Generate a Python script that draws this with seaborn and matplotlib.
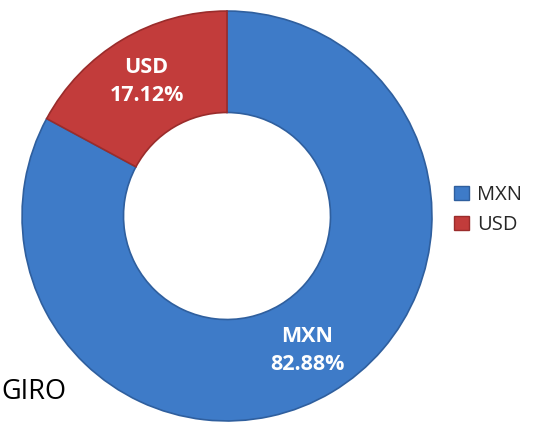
import matplotlib
matplotlib.use('Agg')
import matplotlib.pyplot as plt
import seaborn as sns
from matplotlib.patches import Patch

# data
currencies = ['MXN', 'USD']
shares = [82.88, 17.12]
colors = ['#3E7BC8', '#C23C3B']
edge_colors = ['#2F5F9E', '#9A2C2B']

sns.set_theme(style='white')
plt.rcParams['font.family'] = ['Open Sans', 'DejaVu Sans']

fig = plt.figure(figsize=(5.43, 4.28), dpi=100)
# donut centre ~ (227, 216) px, radius ~207 px
ax = fig.add_axes([20 / 543, 5 / 428, 414 / 543, 414 / 428])

labels_iter = iter(currencies)


def fmt(pct):
    return f'{next(labels_iter)}\n{pct:.2f}%'


wedges, _, autotexts = ax.pie(
    shares, colors=colors, startangle=90, counterclock=False,
    radius=1.0, autopct=fmt, pctdistance=0.765,
    wedgeprops=dict(width=0.495, linewidth=1.2),
    textprops=dict(color='white', fontsize=15.5, fontweight='bold',
                   linespacing=1.4),
)
for w, ec in zip(wedges, edge_colors):
    w.set_edgecolor(ec)

ax.set_xlim(-1.01, 1.01)
ax.set_ylim(-1.01, 1.01)
ax.set_aspect('equal')
ax.axis('off')

handles = [Patch(facecolor=c, edgecolor=e) for c, e in zip(colors, edge_colors)]
fig.legend(handles, currencies, loc='center left',
           bbox_to_anchor=(436 / 543, 1 - 210 / 428), frameon=False,
           fontsize=14.5, handlelength=0.75, handleheight=0.75,
           handletextpad=0.4, labelspacing=0.5)

# the reference shows this word clipped at the left edge; keep it just inside
fig.text(1 / 543, 1 - 392 / 428, 'GIRO', ha='left', va='center',
         fontsize=19.5, color='black')

plt.savefig('out.png', dpi=100)
plt.close()
